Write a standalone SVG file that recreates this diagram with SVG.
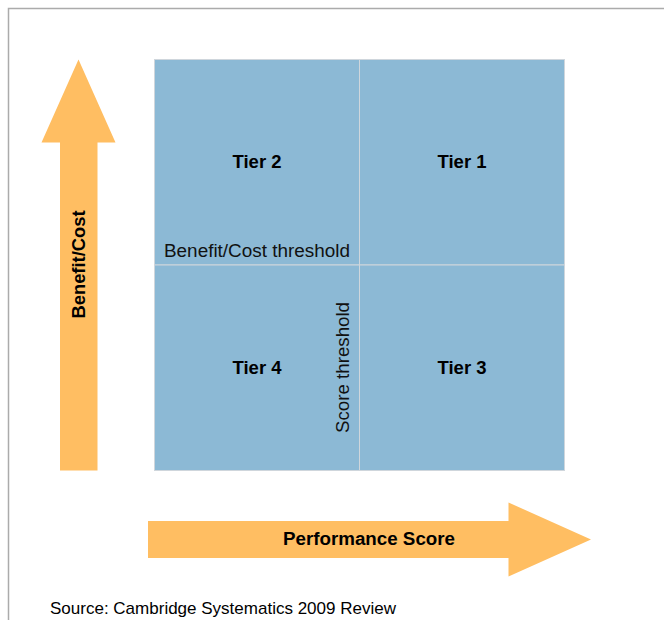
<svg xmlns="http://www.w3.org/2000/svg" width="664" height="620" viewBox="0 0 664 620">
<style>
.frame{fill:none;stroke:#ababab;stroke-width:1.5}
.cell{fill:#8cb9d5;stroke:#cfd6dc;stroke-width:1}
.arrow{fill:#ffbe62}
.tier{font-family:"Liberation Sans",Arial,sans-serif;font-size:17.5px;font-weight:bold;fill:#000;text-anchor:middle}
.lbl{font-family:"Liberation Sans",Arial,sans-serif;font-size:17.5px;fill:#111;text-anchor:middle}
.axis{font-family:"Liberation Sans",Arial,sans-serif;font-size:18px;font-weight:bold;fill:#000;text-anchor:middle}
.src{font-family:"Liberation Sans",Arial,sans-serif;font-size:17px;fill:#000}
</style>
<rect x="0" y="0" width="664" height="620" fill="#fff"/>
<path class="frame" d="M8.5,620 V8.5 H664"/>
<g id="grid">
<g id="tier2"><rect class="cell" x="154.5" y="59.5" width="205" height="205.5"/><text class="tier" x="257" y="167.5" textLength="49" lengthAdjust="spacingAndGlyphs">Tier 2</text></g>
<g id="tier1"><rect class="cell" x="359.5" y="59.5" width="205" height="205.5"/><text class="tier" x="462" y="167.5" textLength="49" lengthAdjust="spacingAndGlyphs">Tier 1</text></g>
<g id="tier4"><rect class="cell" x="154.5" y="265" width="205" height="205.5"/><text class="tier" x="257" y="374" textLength="49" lengthAdjust="spacingAndGlyphs">Tier 4</text></g>
<g id="tier3"><rect class="cell" x="359.5" y="265" width="205" height="205.5"/><text class="tier" x="462" y="374" textLength="49" lengthAdjust="spacingAndGlyphs">Tier 3</text></g>
</g>
<g id="thresholds">
<text class="lbl" x="257" y="256.5" textLength="186" lengthAdjust="spacingAndGlyphs">Benefit/Cost threshold</text>
<text class="lbl" transform="translate(348.5,367.5) rotate(-90)" textLength="131" lengthAdjust="spacingAndGlyphs">Score threshold</text>
</g>
<g id="benefit-axis">
<polygon class="arrow" points="60,470.5 97.5,470.5 97.5,142.5 115.5,142.5 78.5,59.5 41.5,142.5 60,142.5"/>
<text class="axis" transform="translate(84.5,264.5) rotate(-90)" textLength="108" lengthAdjust="spacingAndGlyphs">Benefit/Cost</text>
</g>
<g id="score-axis">
<polygon class="arrow" points="148,521 508.5,521 508.5,502.5 591,539.5 508.5,576.5 508.5,558 148,558"/>
<text class="axis" x="369" y="545" textLength="172" lengthAdjust="spacingAndGlyphs">Performance Score</text>
</g>
<text class="src" x="50" y="614" textLength="346" lengthAdjust="spacingAndGlyphs">Source: Cambridge Systematics 2009 Review</text>
</svg>
